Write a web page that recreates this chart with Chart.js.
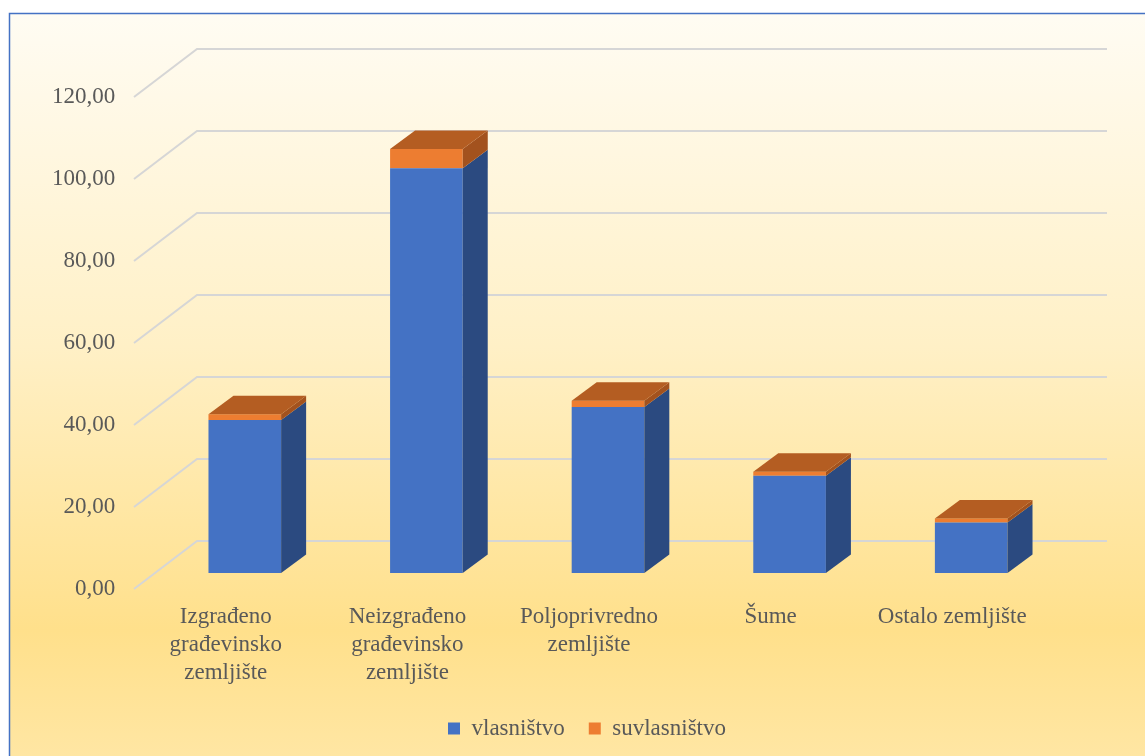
<!DOCTYPE html>
<html><head><meta charset="utf-8">
<script src="https://cdn.jsdelivr.net/npm/chart.js@4.4.0/dist/chart.umd.min.js"></script>
<style>html,body{margin:0;padding:0;background:#fff;overflow:hidden}#wrap{width:1145px;height:756px;position:relative}</style>
</head><body><div id="wrap"><canvas id="c"></canvas></div>
<script>
const categories = [["Izgrađeno","građevinsko","zemljište"],["Neizgrađeno","građevinsko","zemljište"],["Poljoprivredno","zemljište"],"Šume","Ostalo zemljište"];
const vlasnistvo = [37.3, 98.7, 40.5, 23.7, 12.3];
const suvlasnistvo = [1.4, 4.7, 1.5, 1.0, 1.0];
const seriesNames = ["vlasništvo","suvlasništvo"];
const yMin = 0, yMax = 120, yStep = 20;

const frontColors = ["#4472C4", "#ED7D31"];
const sideColors = ["#2B4A80", "#A3521E"];
const topColors = ["#3A62AA", "#B45D22"];

// oblique projection offsets (pixels)
const FRONT_DX = -20, FRONT_DY = 16, BACK_DX = 43, BACK_DY = -32, BACK_RIGHT = 45;
const BAR_DX = 25, BAR_DY = -18.5;

const fontFamily = '"Liberation Serif", "Times New Roman", serif';
Chart.defaults.font.family = fontFamily;
Chart.defaults.font.size = 23;
Chart.defaults.color = '#595959';

const bgPlugin = {
  id: 'bg',
  beforeDraw(chart) {
    const ctx = chart.ctx, W = chart.width, H = chart.height;
    ctx.save();
    ctx.fillStyle = '#ffffff';
    ctx.fillRect(0, 0, W, H);
    const g = ctx.createLinearGradient(0, 13, 0, H);
    g.addColorStop(0, '#FFFCF3');
    g.addColorStop(0.45, '#FFF0C6');
    g.addColorStop(0.83, '#FFE08B');
    g.addColorStop(1, '#FFE6A3');
    ctx.fillStyle = g;
    ctx.fillRect(9, 13, W - 9, H - 13);
    ctx.strokeStyle = '#4472C4';
    ctx.lineWidth = 1.5;
    ctx.beginPath();
    ctx.moveTo(9.5, H + 2);
    ctx.lineTo(9.5, 13.5);
    ctx.lineTo(W + 2, 13.5);
    ctx.stroke();
    ctx.restore();
  }
};

const gridPlugin = {
  id: 'grid3d',
  beforeDatasetsDraw(chart) {
    const ctx = chart.ctx, ys = chart.scales.y, area = chart.chartArea;
    ctx.save();
    ctx.strokeStyle = '#D6D6D6';
    ctx.lineWidth = 2;
    for (let v = yMin; v <= yMax; v += yStep) {
      const y = ys.getPixelForValue(v);
      ctx.beginPath();
      ctx.moveTo(area.left + FRONT_DX, y + FRONT_DY);
      ctx.lineTo(area.left + BACK_DX, y + BACK_DY);
      ctx.lineTo(area.right + BACK_RIGHT, y + BACK_DY);
      ctx.stroke();
    }
    ctx.restore();
  }
};

const boxPlugin = {
  id: 'box3d',
  afterDatasetsDraw(chart) {
    const ctx = chart.ctx;
    const n = chart.data.labels.length;
    ctx.save();
    for (let i = 0; i < n; i++) {
      let topEl = null, topIdx = -1;
      chart.data.datasets.forEach((ds, d) => {
        const el = chart.getDatasetMeta(d).data[i];
        if (!el) return;
        const p = el.getProps(['x', 'y', 'base', 'width'], true);
        const l = p.x - p.width / 2, r = p.x + p.width / 2;
        const top = Math.min(p.y, p.base), bot = Math.max(p.y, p.base);
        if (bot - top <= 0) return;
        ctx.fillStyle = sideColors[d];
        ctx.beginPath();
        ctx.moveTo(r, top);
        ctx.lineTo(r + BAR_DX, top + BAR_DY);
        ctx.lineTo(r + BAR_DX, bot + BAR_DY);
        ctx.lineTo(r, bot);
        ctx.closePath();
        ctx.fill();
        topEl = {l, r, top}; topIdx = d;
      });
      if (topEl) {
        ctx.fillStyle = topColors[topIdx];
        ctx.beginPath();
        ctx.moveTo(topEl.l, topEl.top);
        ctx.lineTo(topEl.l + BAR_DX, topEl.top + BAR_DY);
        ctx.lineTo(topEl.r + BAR_DX, topEl.top + BAR_DY);
        ctx.lineTo(topEl.r, topEl.top);
        ctx.closePath();
        ctx.fill();
      }
    }
    ctx.restore();
  }
};

new Chart(document.getElementById('c'), {
  type: 'bar',
  data: {
    labels: categories,
    datasets: [
      { label: seriesNames[0], data: vlasnistvo, backgroundColor: frontColors[0], borderWidth: 0 },
      { label: seriesNames[1], data: suvlasnistvo, backgroundColor: frontColors[1], borderWidth: 0 }
    ]
  },
  options: {
    responsive: true,
    maintainAspectRatio: false,
    animation: false,
    devicePixelRatio: 1,
    layout: { padding: { left: 112, right: 83, top: 81, bottom: 6 } },
    datasets: { bar: { barPercentage: 0.5, categoryPercentage: 0.8 } },
    plugins: {
      tooltip: { enabled: false },
      legend: {
        position: 'bottom',
        labels: { boxWidth: 12, boxHeight: 12, padding: 24, color: '#595959', font: { size: 23, family: fontFamily } }
      }
    },
    scales: {
      x: {
        stacked: true,
        grid: { display: false, drawTicks: false },
        border: { display: false },
        ticks: { padding: 30, labelOffset: -19, maxRotation: 0, autoSkip: false, color: '#595959', font: { size: 23, lineHeight: 1.22 } },
        afterFit(scale) {
          const lg = scale.chart.legend;
          scale.height = 756 - 6 - (lg ? lg.height : 0) - 573;
        }
      },
      y: {
        stacked: true,
        min: yMin, max: yMax,
        grid: { display: false, drawTicks: false },
        border: { display: false },
        ticks: {
          stepSize: yStep, mirror: true, crossAlign: 'far', padding: -102, z: 1,
          labelOffset: FRONT_DY, color: '#595959', font: { size: 23 },
          callback: v => Number(v).toFixed(2).replace('.', ',')
        },
        afterFit(scale) { scale.width = 42; }
      }
    }
  },
  plugins: [bgPlugin, gridPlugin, boxPlugin]
});
</script>
</body></html>
